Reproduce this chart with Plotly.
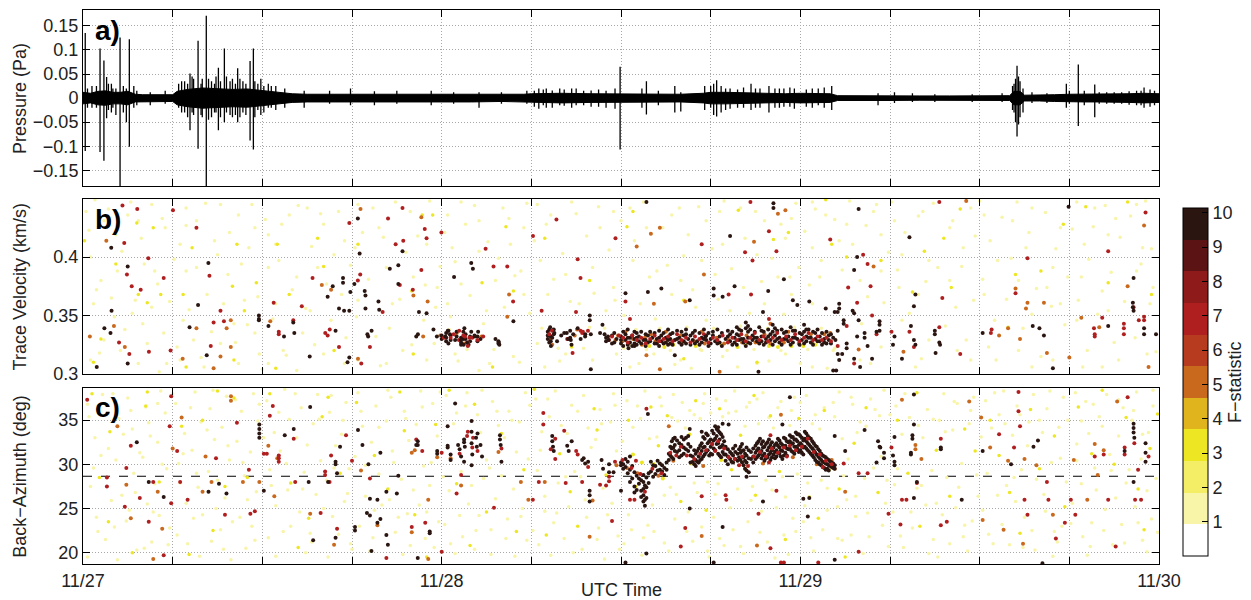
import plotly.graph_objects as go
from plotly.subplots import make_subplots

# ---------------- axes / ticks ----------------
time_ticks = [0, 6, 12, 18, 24, 30, 36, 42, 48, 54, 60, 66, 72]
time_tick_labels = ["11/27", "", "", "", "11/28", "", "", "", "11/29", "", "", "", "11/30"]
p_ticks = [-0.15, -0.1, -0.05, 0, 0.05, 0.1, 0.15]
p_tick_labels = ["−0.15", "−0.1", "−0.05", "0", "0.05", "0.1", "0.15"]
v_ticks = [0.3, 0.35, 0.4]
v_tick_labels = ["0.3", "0.35", "0.4"]
baz_ticks = [20, 25, 30, 35]
f_ticks = [1, 2, 3, 4, 5, 6, 7, 8, 9, 10]
ref_baz = 28.65  # dashed reference back-azimuth

# F-statistic colour bands (bottom to top)
band_colors = ["#ffffff", "#f8f4a8", "#f4ee66", "#ede623", "#e0b41d", "#c9691e",
               "#b63b1f", "#b01f1f", "#8e1a1a", "#5b1313", "#2a1511"]
F_MAX = 10.13

# F value of each point class
F_PALE, F_YELLOW, F_ORANGE, F_RED, F_DARK = 1.4, 3.2, 5.0, 7.0, 9.6

# ---------------- panel a: pressure ----------------
env_hours = [0, 0.5, 1, 1.5, 2, 2.5, 3, 3.5, 4, 5, 6, 6.3, 7, 8, 9, 10, 11, 12, 13, 14, 15, 16, 18,
             20, 22, 24, 26, 28, 29.5, 30, 32, 34, 35.5, 36, 37, 38, 40, 41.5, 42, 43, 44, 45, 46,
             47, 48, 49, 50, 50.5, 52, 54, 56, 58, 60, 62, 62.3, 62.7, 63, 64, 65, 66, 67, 68, 69,
             70, 71, 72]
env_amp = [0.012, 0.01, 0.014, 0.015, 0.012, 0.012, 0.014, 0.008, 0.007, 0.007, 0.007, 0.014, 0.018,
           0.021, 0.019, 0.018, 0.019, 0.016, 0.012, 0.009, 0.008, 0.008, 0.008, 0.008, 0.007, 0.008,
           0.008, 0.007, 0.008, 0.009, 0.01, 0.009, 0.009, 0.008, 0.008, 0.008, 0.008, 0.01, 0.012,
           0.012, 0.011, 0.011, 0.01, 0.009, 0.01, 0.01, 0.009, 0.005, 0.0045, 0.005, 0.0045, 0.0045,
           0.0045, 0.005, 0.014, 0.014, 0.006, 0.006, 0.007, 0.008, 0.008, 0.008, 0.008, 0.009, 0.01, 0.009]

# (hour, max, min) of individual pulses
spikes = [
    (0.15, 0.135, -0.11), (1.14, 0.103, -0.112), (1.4, 0.078, -0.13), (1.58, 0.044, -0.042),
    (2.48, 0.126, -0.183), (2.9, 0.02, -0.05), (3.1, 0.122, -0.101), (7.16, 0.051, -0.067),
    (7.7, 0.119, -0.105), (7.98, 0.04, -0.04), (8.25, 0.171, -0.183), (9.06, 0.063, -0.067),
    (9.46, 0.103, -0.05), (9.84, 0.035, -0.035), (10.35, 0.062, -0.05), (11.18, 0.077, -0.088),
    (11.4, 0.103, -0.107), (11.5, 0.035, -0.04), (35.94, 0.065, -0.107), (62.5, 0.067, -0.08),
    (65.8, 0.03, -0.02), (66.6, 0.07, -0.058), (67.7, 0.028, -0.04),
    (0.6, 0.025, -0.02), (1.9, 0.03, -0.03), (2.2, 0.02, -0.035), (3.4, 0.025, -0.02),
    (4.5, 0.012, -0.015), (5.5, 0.015, -0.012), (6.4, 0.03, -0.02), (6.8, 0.035, -0.03),
    (7.4, 0.04, -0.035), (8.6, 0.035, -0.04), (8.9, 0.045, -0.03), (10.0, 0.04, -0.04),
    (10.7, 0.035, -0.03), (11.9, 0.04, -0.035), (12.4, 0.03, -0.02), (12.9, 0.025, -0.025),
    (13.5, 0.02, -0.02), (14.8, 0.015, -0.02), (16.5, 0.015, -0.012), (17.9, 0.02, -0.015),
    (19.5, 0.014, -0.015), (21.0, 0.015, -0.012), (23.3, 0.015, -0.015), (24.8, 0.012, -0.012),
    (26.5, 0.012, -0.02), (28.0, 0.012, -0.012), (29.7, 0.015, -0.012), (30.5, 0.02, -0.022),
    (31.0, 0.02, -0.02), (31.9, 0.02, -0.015), (32.7, 0.02, -0.02), (33.5, 0.015, -0.015),
    (34.5, 0.018, -0.018), (35.6, 0.02, -0.022), (37.4, 0.02, -0.02), (37.7, 0.035, -0.034),
    (38.5, 0.015, -0.015), (39.6, 0.025, -0.03), (40.0, 0.012, -0.028), (41.6, 0.025, -0.025),
    (42.2, 0.03, -0.035), (42.4, 0.037, -0.038), (42.7, 0.025, -0.03), (43.3, 0.02, -0.022),
    (43.8, 0.018, -0.02), (44.7, 0.03, -0.025), (45.3, 0.02, -0.02), (45.9, 0.025, -0.03),
    (46.3, 0.02, -0.02), (46.9, 0.02, -0.018), (47.6, 0.02, -0.022), (48.4, 0.018, -0.018),
    (49.2, 0.02, -0.015), (50.1, 0.025, -0.025), (53.2, 0.01, -0.015), (54.3, 0.012, -0.01),
    (55.5, 0.01, -0.008), (57.0, 0.008, -0.008), (59.5, 0.008, -0.008), (61.5, 0.01, -0.008),
    (62.3, 0.03, -0.03), (62.7, 0.035, -0.04), (63.5, 0.012, -0.01), (64.5, 0.01, -0.01),
    (66.0, 0.015, -0.012), (67.0, 0.015, -0.015), (68.5, 0.012, -0.012), (69.5, 0.012, -0.012),
    (70.5, 0.015, -0.015), (71.0, 0.022, -0.02), (71.4, 0.018, -0.018),
    (6.6, 0.035, -0.03), (7.0, 0.03, -0.04), (7.3, 0.045, -0.03), (7.9, 0.03, -0.035),
    (8.4, 0.04, -0.045), (8.8, 0.03, -0.03), (9.2, 0.035, -0.04), (9.6, 0.045, -0.03),
    (10.2, 0.03, -0.035), (10.5, 0.04, -0.04), (10.9, 0.03, -0.035), (11.7, 0.03, -0.025),
    (12.1, 0.025, -0.03), (12.6, 0.025, -0.02), (30.2, 0.015, -0.018), (30.8, 0.018, -0.015),
    (31.4, 0.016, -0.02), (32.2, 0.018, -0.016), (33.0, 0.02, -0.015), (34.0, 0.016, -0.018),
    (35.0, 0.015, -0.02), (42.0, 0.025, -0.02), (43.0, 0.02, -0.025), (44.2, 0.022, -0.02),
    (45.0, 0.02, -0.02), (46.6, 0.02, -0.02), (47.3, 0.022, -0.018), (48.8, 0.02, -0.02),
    (49.6, 0.022, -0.02), (0.3, 0.02, -0.02), (0.9, 0.025, -0.02), (1.7, 0.03, -0.025),
    (2.0, 0.02, -0.02), (2.7, 0.025, -0.03), (3.6, 0.015, -0.015), (68.0, 0.012, -0.012),
    (69.0, 0.012, -0.012), (70.0, 0.014, -0.014), (70.8, 0.015, -0.015), (71.7, 0.015, -0.015),
    (62.2, 0.025, -0.025), (62.4, 0.04, -0.05), (62.6, 0.045, -0.055), (62.9, 0.02, -0.03),
]

# ---------------- panel b: trace velocity (hour, km/s) ----------------
vel_pale = [
    (0.2,0.439),(0.8,0.449),(1.4,0.431),(2.2,0.419),(3.0,0.436),(3.7,0.431),(4.6,0.445),(5.5,0.425),(0.5,0.400),(1.2,0.380),(2.3,0.388),(4.1,0.394),(5.0,0.377),(3.5,0.363),(0.7,0.360),(4.6,0.357),(1.4,0.329),(2.5,0.320),(3.7,0.309),(5.4,0.335),(0.5,0.312),(5.6,0.309),(4.0,0.343),(2.1,0.349),
    (6.9,0.442),(7.6,0.431),(9.2,0.445),(10.4,0.436),(11.5,0.425),(6.5,0.411),(8.8,0.414),(11.1,0.408),(6.9,0.388),(9.7,0.385),(8.3,0.368),(10.8,0.363),(6.7,0.346),(10.1,0.343),(7.4,0.329),(9.2,0.326),(11.5,0.335),(6.5,0.312),(8.1,0.306),(10.4,0.309),(11.8,0.317),
    (12.4,0.419),(12.9,0.411),(13.8,0.436),(15.0,0.442),(16.1,0.428),(17.5,0.414),(12.4,0.391),(14.3,0.383),(15.7,0.391),(17.3,0.368),(12.9,0.360),(15.2,0.354),(16.6,0.346),(13.4,0.320),(14.7,0.335),(16.1,0.317),(17.5,0.309),(12.4,0.309),(14.3,0.303),
    (18.4,0.445),(19.8,0.425),(21.9,0.439),(23.0,0.411),(18.2,0.408),(20.3,0.391),(22.1,0.383),(23.7,0.374),(18.4,0.363),(20.7,0.360),(22.8,0.346),(19.6,0.332),(21.4,0.320),(23.0,0.312),(18.4,0.312),(20.3,0.309),(23.5,0.326),
    (24.4,0.436),(25.3,0.447),(26.5,0.431),(28.1,0.442),(29.5,0.425),(24.7,0.408),(26.5,0.405),(28.6,0.411),(25.3,0.377),(27.6,0.380),(29.3,0.388),(24.4,0.360),(27.0,0.354),(29.5,0.368),(24.9,0.317),(27.2,0.309),(28.8,0.315),(26.5,0.303),
    (30.4,0.445),(31.3,0.436),(32.7,0.447),(34.6,0.425),(35.5,0.439),(30.6,0.397),(32.3,0.385),(34.1,0.391),(35.5,0.374),(31.1,0.368),(33.2,0.360),(35.0,0.354),(30.4,0.326),(32.3,0.317),(34.1,0.312),(35.7,0.317),(30.9,0.306),
    (36.6,0.442),(37.7,0.425),(39.4,0.436),(40.5,0.419),(41.7,0.431),(36.8,0.397),(38.4,0.388),(40.0,0.380),(41.4,0.397),(37.3,0.360),(39.4,0.368),(41.0,0.357),(38.2,0.317),(40.0,0.312),(41.4,0.320),(36.6,0.306),(40.7,0.305),
    (42.6,0.439),(44.0,0.442),(45.6,0.431),(47.4,0.433),(42.8,0.411),(45.1,0.402),(47.0,0.416),(42.3,0.385),(44.2,0.374),(46.5,0.383),(47.9,0.391),(43.3,0.354),(45.6,0.360),(47.4,0.368),(42.8,0.315),(45.1,0.309),(47.0,0.317),
    (48.8,0.447),(49.7,0.436),(51.1,0.428),(52.9,0.439),(48.8,0.408),(50.6,0.414),(53.4,0.419),(49.3,0.383),(52.0,0.380),(53.4,0.388),(48.8,0.360),(52.5,0.366),(50.2,0.320),(53.4,0.323),(48.8,0.306),(52.0,0.312),
    (54.3,0.431),(56.2,0.439),(58.0,0.425),(59.4,0.442),(54.8,0.402),(56.6,0.397),(58.9,0.408),(54.6,0.374),(55.9,0.368),(58.0,0.380),(59.6,0.363),(54.8,0.346),(56.6,0.329),(58.5,0.320),(59.4,0.312),(55.7,0.306),
    (60.3,0.436),(62.2,0.431),(63.5,0.442),(65.4,0.425),(61.2,0.397),(63.1,0.408),(64.9,0.391),(60.3,0.368),(62.6,0.380),(64.5,0.374),(61.0,0.346),(63.5,0.351),(65.4,0.360),(60.6,0.323),(62.6,0.320),(64.9,0.312),(63.5,0.306),
    (66.5,0.447),(67.7,0.442),(69.1,0.433),(70.5,0.445),(67.0,0.411),(68.6,0.419),(70.9,0.408),(66.8,0.383),(68.2,0.371),(70.5,0.388),(71.6,0.374),(66.5,0.346),(68.6,0.354),(71.4,0.360),(67.2,0.320),(69.3,0.312),(71.2,0.317),(68.2,0.306),
]
vel_pale_2 = [
    (0.4,0.423),(0.9,0.372),(1.1,0.318),(1.7,0.441),(1.9,0.365),(2.6,0.405),(2.8,0.338),(3.2,0.447),(3.3,0.352),(3.9,0.416),(4.3,0.326),(4.8,0.388),(5.1,0.302),(5.3,0.433),(5.8,0.362),(6.1,0.398),(6.3,0.323),(6.9,0.427),(7.1,0.355),(7.6,0.391),(7.9,0.314),(8.2,0.446),(8.6,0.336),(9.0,0.402),(9.4,0.360),(9.8,0.421),(10.2,0.327),(10.6,0.394),(11.0,0.342),(11.3,0.445),(11.7,0.366),(12.0,0.304),(12.2,0.432),(12.7,0.347),(13.1,0.397),(13.3,0.428),(13.6,0.316),(14.0,0.372),(14.4,0.444),(14.9,0.356),(15.3,0.409),(15.5,0.325),(15.9,0.437),(16.3,0.377),(16.8,0.402),(17.1,0.439),(17.6,0.331),(17.9,0.393),
    (18.3,0.349),(18.7,0.421),(19.1,0.381),(19.4,0.442),(19.9,0.307),(20.1,0.417),(20.5,0.339),(20.9,0.447),(21.2,0.364),(21.6,0.404),(22.0,0.325),(22.4,0.418),(22.9,0.376),(23.2,0.448),(23.6,0.357),(23.9,0.392),(24.2,0.421),(24.6,0.349),(24.9,0.396),(25.1,0.311),(25.6,0.428),(25.9,0.367),(26.2,0.444),(26.8,0.343),(27.1,0.413),(27.5,0.321),(27.8,0.399),(28.2,0.357),(28.5,0.433),(28.9,0.384),(29.2,0.310),(29.7,0.446),(29.9,0.352),(30.2,0.414),(30.7,0.339),(31.0,0.428),(31.5,0.381),(31.9,0.311),(32.1,0.403),(32.6,0.362),(33.0,0.437),(33.5,0.322),(33.7,0.418),(34.2,0.369),(34.5,0.443),(34.9,0.339),(35.2,0.406),(35.6,0.363),
    (36.0,0.431),(36.2,0.350),(36.9,0.414),(37.2,0.309),(37.5,0.447),(37.9,0.383),(38.3,0.347),(38.8,0.425),(39.1,0.393),(39.6,0.308),(39.9,0.442),(40.2,0.401),(40.8,0.372),(41.2,0.443),(41.7,0.346),(42.1,0.407),(42.5,0.364),(42.9,0.448),(43.4,0.390),(43.8,0.306),(44.3,0.416),(44.6,0.352),(45.0,0.439),(45.4,0.379),(45.9,0.311),(46.1,0.399),(46.7,0.428),(46.9,0.351),(47.3,0.383),(47.7,0.446),(48.0,0.309),(48.3,0.422),(48.6,0.376),(49.0,0.441),(49.4,0.397),(49.8,0.305),(50.3,0.432),(50.8,0.389),(51.3,0.448),(51.5,0.411),(52.1,0.343),(52.4,0.427),(52.7,0.309),(53.1,0.445),(53.6,0.361),(53.9,0.404),
    (54.1,0.447),(54.5,0.389),(55.0,0.421),(55.3,0.352),(55.9,0.435),(56.1,0.313),(56.4,0.379),(56.9,0.446),(57.2,0.391),(57.7,0.341),(58.2,0.431),(58.4,0.357),(58.8,0.392),(59.1,0.329),(59.7,0.418),(60.0,0.448),(60.2,0.381),(60.7,0.414),(61.1,0.312),(61.5,0.434),(61.8,0.364),(62.1,0.399),(62.5,0.447),(62.9,0.339),(63.3,0.421),(63.8,0.373),(64.1,0.315),(64.4,0.438),(64.8,0.358),(65.1,0.407),(65.7,0.342),(65.9,0.383),(66.2,0.424),(66.6,0.363),(66.9,0.306),(67.3,0.398),(67.6,0.426),(67.9,0.351),(68.4,0.444),(68.8,0.387),(69.0,0.327),(69.4,0.417),(69.7,0.362),(70.1,0.435),(70.4,0.331),(70.8,0.394),(71.1,0.448),(71.5,0.407),(71.8,0.319),
    (36.2,0.322),(37.0,0.338),(37.7,0.321),(38.6,0.339),(39.3,0.320),(40.4,0.340),(41.3,0.321),(42.2,0.339),(43.1,0.320),(44.0,0.341),(44.9,0.321),(45.8,0.339),(46.7,0.320),(47.6,0.340),(48.5,0.321),(49.4,0.339),(50.3,0.322),(24.5,0.338),(25.7,0.321),(31.8,0.322),(33.9,0.340),
]
vel_yellow = [
    (3.6,0.429),(0.1,0.414),(4.7,0.425),(4.3,0.361),(1.2,0.330),(0.7,0.310),(5.2,0.368),(3.7,0.368),(2.2,0.394),(7.3,0.408),(10.3,0.411),(10.0,0.375),(6.7,0.368),(11.6,0.378),(10.8,0.354),(10.1,0.312),(6.9,0.306),(13.0,0.411),(15.7,0.416),(16.1,0.392),(13.8,0.368),(16.8,0.320),(12.9,0.305),(18.4,0.411),(23.4,0.436),(22.7,0.436),(22.0,0.371),(22.1,0.317),(28.3,0.426),(26.7,0.378),(28.8,0.371),(27.4,0.306),(30.9,0.416),(33.9,0.380),(32.7,0.323),(36.8,0.439),(40.2,0.363),(36.4,0.426),(40.2,0.313),(43.85,0.440),(47.2,0.421),(46.2,0.415),(45.1,0.310),(50.1,0.411),(53.4,0.397),(49.7,0.449),(51.1,0.400),(57.6,0.416),(58.1,0.374),(55.5,0.370),(56.3,0.405),(58.7,0.441),(62.4,0.385),(64.1,0.388),(65.6,0.428),(61.9,0.340),(69.9,0.447),(67.1,0.443),(71.5,0.368),(68.6,0.378),
]
vel_orange = [
    (1.56,0.414),(2.07,0.341),(0.46,0.332),(2.80,0.323),(7.59,0.339),(9.61,0.339),(9.89,0.346),(9.20,0.315),(9.89,0.323),(6.67,0.313),(8.74,0.305),(12.53,0.345),(16.60,0.372),(15.98,0.376),(18.57,0.441),(18.40,0.313),(22.64,0.434),(22.11,0.367),(23.06,0.362),(22.76,0.332),(23.91,0.333),(25.01,0.335),(26.67,0.332),(28.51,0.368),(28.39,0.349),(31.26,0.330),(33.06,0.338),(35.63,0.329),(38.6,0.425),(38.0,0.420),(37.05,0.409),(41.55,0.385),(38.2,0.360),(40.3,0.362),(46.5,0.437),(47.0,0.440),(44.9,0.413),(46.0,0.343),(52.9,0.392),(51.9,0.321),(37.7,0.316),(38.6,0.304),(42.6,0.302),(54.9,0.319),(59.1,0.448),(62.4,0.373),(63.2,0.361),(64.3,0.361),(63.1,0.356),(61.3,0.333),(61.9,0.339),(62.7,0.330),(64.5,0.318),(66.0,0.314),(66.8,0.348),(68.0,0.340),(71.0,0.427),(69.9,0.375),(71.3,0.306),
]
vel_red = [
    (2.64,0.444),(3.63,0.441),(2.76,0.412),(2.94,0.385),(4.37,0.399),(3.26,0.375),(3.86,0.372),(5.40,0.382),(2.41,0.327),(4.41,0.319),(3.10,0.317),(5.86,0.320),(6.02,0.440),(7.59,0.425),(8.46,0.384),(9.20,0.354),(8.74,0.344),(9.43,0.345),(8.55,0.324),(13.10,0.336),(13.10,0.334),(14.07,0.346),(12.76,0.361),(14.64,0.358),(16.21,0.335),(16.37,0.333),(16.51,0.338),(17.13,0.323),(15.36,0.382),(18.55,0.385),(18.39,0.380),(17.82,0.429),(18.62,0.309),(20.05,0.353),(20.41,0.433),(21.38,0.442),(21.43,0.414),(20.92,0.411),(21.20,0.376),(22.87,0.424),(22.99,0.416),(22.64,0.389),(22.07,0.372),(23.98,0.421),(19.20,0.323),(24.60,0.331),(25.17,0.337),(25.56,0.332),(25.86,0.331),(26.39,0.329),(26.78,0.332),(25.75,0.324),(26.94,0.407),(27.47,0.392),(28.39,0.392),(28.78,0.362),(31.38,0.337),(33.29,0.337),(33.45,0.336),(33.79,0.337),(35.40,0.332),(35.86,0.333),(30.69,0.354),(32.99,0.353),(30.11,0.418),(31.68,0.432),(35.63,0.416),(33.10,0.398),(33.29,0.382),(32.76,0.318),
    (41.4,0.411),(36.3,0.362),(36.6,0.347),(44.66,0.447),(45.9,0.422),(46.4,0.405),(44.3,0.404),(44.8,0.397),(43.2,0.368),(44.7,0.368),(45.9,0.347),(50.0,0.415),(52.2,0.402),(52.5,0.394),(52.7,0.375),(51.2,0.374),(51.8,0.361),(51.1,0.341),(52.8,0.350),(53.1,0.334),(50.5,0.324),(51.6,0.309),(54.1,0.336),(55.3,0.336),(55.6,0.323),(57.3,0.340),(57.5,0.365),(58.7,0.317),(57.3,0.447),(63.2,0.399),(62.4,0.369),(60.8,0.338),(60.75,0.335),(68.6,0.405),(71.1,0.438),(70.65,0.346),(71.0,0.349),(71.0,0.346),(69.65,0.343),(69.65,0.339),(69.65,0.334),(67.65,0.339),(67.7,0.334),(67.7,0.332),(68.2,0.348),(70.3,0.357),
]
vel_dark = [
    (1.89,0.408),(2.99,0.392),(1.91,0.354),(1.43,0.339),(1.84,0.335),(2.99,0.309),(0.92,0.306),(8.39,0.395),(7.70,0.359),(7.13,0.340),(8.28,0.316),(11.77,0.350),(11.77,0.347),(11.77,0.346),(12.41,0.341),(13.45,0.332),(14.07,0.344),(14.14,0.335),(15.17,0.315),(16.90,0.337),(16.71,0.375),(16.37,0.366),(17.13,0.356),(17.47,0.354),(17.82,0.354),(17.40,0.382),(17.40,0.378),(17.89,0.370),(18.16,0.377),(17.82,0.314),(17.70,0.310),(18.39,0.433),(18.51,0.403),(18.85,0.371),(18.90,0.367),(18.90,0.356),(19.77,0.362),(19.82,0.355),(20.53,0.390),(21.10,0.393),(21.10,0.377),(21.38,0.405),(22.48,0.353),(22.99,0.352),(19.31,0.337),(19.08,0.332),(19.03,0.334),(22.30,0.332),(22.41,0.334),(23.45,0.338),(23.68,0.332),(24.25,0.332),(24.41,0.337),(24.55,0.334),(25.29,0.329),(25.52,0.339),(25.70,0.327),(25.98,0.336),(26.21,0.332),(26.44,0.336),(25.47,0.325),(27.82,0.327),(27.86,0.325),(24.83,0.383),(26.09,0.390),(25.98,0.395),(28.80,0.345),(31.26,0.340),(31.31,0.324),(31.54,0.335),(31.72,0.328),(32.46,0.330),(32.64,0.329),(32.69,0.325),(33.61,0.334),(33.98,0.334),(33.91,0.350),(33.91,0.346),(34.76,0.342),(35.13,0.332),(35.17,0.329),(33.98,0.304),(32.37,0.335),
    (37.7,0.447),(36.3,0.369),(37.8,0.370),(38.7,0.373),(40.6,0.363),(43.3,0.418),(46.2,0.446),(46.2,0.442),(42.2,0.373),(42.2,0.367),(43.6,0.375),(42.8,0.366),(45.85,0.371),(46.9,0.381),(47.5,0.363),(47.8,0.359),(45.5,0.353),(48.6,0.362),(49.7,0.356),(51.9,0.441),(51.8,0.400),(51.6,0.389),(51.5,0.354),(51.6,0.352),(50.6,0.360),(50.6,0.356),(50.5,0.353),(50.3,0.353),(50.9,0.346),(50.9,0.343),(50.5,0.337),(51.9,0.346),(53.3,0.345),(53.3,0.342),(53.3,0.337),(53.1,0.336),(52.3,0.335),(52.3,0.331),(51.8,0.332),(51.1,0.326),(51.1,0.322),(50.5,0.317),(50.8,0.317),(50.6,0.312),(50.4,0.303),(50.2,0.303),(51.6,0.313),(52.0,0.306),(52.8,0.313),(52.5,0.324),(45.2,0.302),(41.66,0.332),(39.6,0.316),(36.5,0.322),(36.9,0.324),(55.3,0.417),(55.7,0.368),(55.6,0.358),(54.3,0.332),(54.2,0.325),(55.4,0.341),(55.6,0.329),(55.7,0.325),(57.0,0.337),(57.0,0.334),(57.3,0.327),(57.35,0.325),(57.05,0.318),(54.8,0.313),(60.2,0.335),(63.55,0.341),(64.0,0.339),(64.3,0.333),(65.95,0.443),(70.3,0.382),(70.25,0.361),(70.25,0.357),(70.3,0.354),(71.0,0.339),(71.0,0.334),(68.6,0.341),(71.8,0.334),(64.9,0.305),
]
# dense band of detections (hour, velocities)
vel_band_dark = [
    (24.0,(0.333,0.330)),(24.3,(0.335,0.331,0.328)),(24.6,(0.333,0.329)),(25.0,(0.336,0.332)),(25.3,(0.331,0.327,0.325)),(25.6,(0.334,0.330)),(25.9,(0.332,0.328)),(26.2,(0.333,)),(26.6,(0.330,)),(27.8,(0.328,0.326)),
    (31.1,(0.336,0.333,0.330)),(31.3,(0.332,0.328)),(31.5,(0.338,0.334)),(32.2,(0.335,)),(32.6,(0.337,0.331)),(33.1,(0.339,)),(33.6,(0.332,)),(34.6,(0.335,)),(35.0,(0.331,0.328)),(35.4,(0.333,0.326)),(35.7,(0.330,)),
    (36.0,(0.332,0.329,0.326)),(36.3,(0.334,0.329)),(36.6,(0.331,0.327)),(36.9,(0.330,0.326,0.336)),(37.2,(0.332,0.328)),(37.5,(0.329,)),(37.8,(0.333,0.327)),(38.1,(0.331,)),(38.4,(0.330,0.326)),(38.7,(0.333,0.328)),(39.0,(0.331,0.327)),(39.3,(0.334,0.330,0.326)),(39.6,(0.329,)),(39.9,(0.331,0.327)),(40.2,(0.333,0.328)),(40.5,(0.330,)),(40.8,(0.335,0.329)),(41.1,(0.328,)),(41.4,(0.331,0.327)),(41.7,(0.333,0.329)),(42.0,(0.330,0.326)),(42.3,(0.328,)),(42.6,(0.332,0.327)),(43.0,(0.330,)),(43.3,(0.334,0.328)),(43.6,(0.331,0.327)),(43.9,(0.338,0.333,0.329)),(44.2,(0.330,0.327)),(44.5,(0.341,0.336,0.331,0.327)),(44.8,(0.333,0.329)),(45.1,(0.331,0.328)),(45.4,(0.337,0.332,0.328)),(45.7,(0.330,0.327)),(46.0,(0.334,0.329)),(46.3,(0.339,0.333,0.328)),(46.6,(0.331,0.327)),(46.9,(0.335,0.330)),(47.2,(0.332,0.328)),(47.5,(0.337,0.331,0.327)),(47.8,(0.330,)),(48.1,(0.334,0.329)),(48.4,(0.338,0.332,0.328)),(48.7,(0.331,0.327)),(49.0,(0.335,0.330)),(49.3,(0.332,0.328)),(49.6,(0.330,0.327)),(49.9,(0.333,0.329)),(50.2,(0.331,)),
]
vel_band_dark_2 = [
    (24.45,(0.337,0.326)),(24.9,(0.329,)),(25.45,(0.330,0.336)),(25.8,(0.325,)),(26.4,(0.332,0.328)),(27.6,(0.330,)),(31.2,(0.338,0.327)),(31.4,(0.331,)),(32.0,(0.333,)),(32.8,(0.334,)),(33.3,(0.330,)),(34.9,(0.334,)),(35.55,(0.335,0.327)),
    (36.15,(0.336,0.324)),(36.45,(0.338,0.331,0.325)),(36.75,(0.333,0.324)),(37.05,(0.335,0.331,0.325)),(37.35,(0.336,0.326)),(37.65,(0.334,0.329,0.324)),(37.95,(0.336,0.328)),(38.25,(0.335,0.326)),(38.55,(0.337,0.331,0.324)),(38.85,(0.335,0.326)),(39.15,(0.338,0.329,0.325)),(39.45,(0.335,0.325)),(39.75,(0.337,0.330)),(40.05,(0.336,0.325)),(40.35,(0.338,0.334,0.326)),(40.65,(0.333,0.325)),(40.95,(0.337,0.326)),(41.25,(0.335,0.325)),(41.55,(0.338,0.330)),(41.85,(0.335,0.324)),(42.15,(0.336,0.333)),(42.45,(0.338,0.326)),(42.75,(0.335,0.324)),(43.15,(0.337,0.332)),(43.45,(0.336,0.325)),(43.75,(0.340,0.334,0.325)),(44.05,(0.337,0.330)),(44.35,(0.344,0.339,0.324)),(44.65,(0.338,0.326)),(44.95,(0.336,0.331)),(45.25,(0.340,0.326)),(45.55,(0.336,0.325)),(45.85,(0.338,0.332)),(46.15,(0.342,0.336,0.325)),(46.45,(0.337,0.330)),(46.75,(0.338,0.325)),(47.05,(0.336,0.330)),(47.35,(0.340,0.325)),(47.65,(0.337,0.331)),(47.95,(0.335,0.325)),(48.25,(0.342,0.336,0.326)),(48.55,(0.338,0.331)),(48.85,(0.336,0.325)),(49.15,(0.338,0.328)),(49.45,(0.335,0.325)),(49.75,(0.336,0.326)),(50.05,(0.334,0.326)),(50.35,(0.329,)),
]
vel_band_red = [
    (24.15,0.331),(24.8,0.334),(25.15,0.329),(25.45,0.333),(25.75,0.327),(26.05,0.331),(31.2,0.334),(32.4,0.330),(33.4,0.335),(35.2,0.329),(36.15,0.331),(36.45,0.327),(36.75,0.333),(37.05,0.329),(37.35,0.331),(37.65,0.326),(37.95,0.330),(38.25,0.333),(38.55,0.328),(38.85,0.330),(39.15,0.332),(39.45,0.328),(39.75,0.334),(40.05,0.329),(40.35,0.331),(40.65,0.327),(40.95,0.332),(41.25,0.330),(41.55,0.334),(41.85,0.327),(42.15,0.331),(42.45,0.329),(42.8,0.333),(43.15,0.327),(43.45,0.331),(43.75,0.329),(44.05,0.334),(44.35,0.328),(44.65,0.331),(44.95,0.335),(45.25,0.329),(45.55,0.332),(45.85,0.328),(46.15,0.331),(46.45,0.335),(46.75,0.329),(47.05,0.332),(47.35,0.329),(47.65,0.334),(47.95,0.328),(48.25,0.331),(48.55,0.335),(48.85,0.329),(49.15,0.332),(49.45,0.329),(49.75,0.331),(50.05,0.328),
]
vel_band_orange = [
    (36.1,0.328),(36.8,0.330),(37.6,0.331),(38.3,0.328),(39.1,0.330),(40.1,0.326),(40.9,0.328),(41.6,0.326),(42.4,0.331),(43.2,0.329),(44.1,0.327),(45.0,0.327),(46.0,0.326),(46.9,0.327),(47.9,0.326),(48.8,0.327),(49.6,0.334),(25.5,0.326),(31.4,0.325),(32.9,0.333),(35.8,0.333),
    (36.3,0.336),(37.4,0.325),(38.0,0.334),(39.0,0.336),(40.0,0.333),(41.4,0.336),(42.9,0.326),(44.4,0.333),(45.6,0.334),(47.2,0.336),(48.7,0.334),(50.0,0.335),
]
vel_band_yellow = [
    (36.5,0.325),(37.9,0.324),(39.5,0.325),(41.0,0.324),(42.7,0.325),(44.3,0.325),(45.9,0.324),(47.4,0.324),(49.0,0.325),(38.9,0.323),(43.8,0.323),(46.5,0.323),(48.2,0.324),
]

# ---------------- panel c: back-azimuth (hour, deg) ----------------
baz_pale = [
    (0.3,36.8),(0.8,33.0),(1.2,31.0),(0.5,27.5),(0.9,24.0),(1.5,21.5),(0.3,19.5),(2.0,38.0),(2.4,35.2),(2.2,30.5),(2.6,26.5),(2.1,22.9),(3.0,37.5),(3.3,34.0),(3.4,29.0),(3.1,24.8),(3.6,20.3),(4.2,36.5),(4.5,33.2),(4.0,30.8),(4.8,27.8),(4.3,25.5),(4.6,21.2),(5.2,38.3),(5.5,35.8),(5.0,32.5),(5.6,29.5),(5.1,24.2),(5.7,20.9),
    (6.2,36.9),(6.8,33.5),(6.4,30.1),(6.9,25.6),(6.3,22.0),(7.5,38.2),(7.9,34.8),(7.3,31.6),(7.7,27.4),(7.4,23.9),(7.8,19.6),(8.5,36.3),(8.8,32.8),(8.4,29.2),(8.9,25.0),(8.6,21.3),(9.6,37.7),(9.3,34.2),(9.8,30.5),(9.5,26.2),(9.2,22.6),(9.9,19.2),(10.6,36.0),(10.3,32.6),(10.8,28.7),(10.5,24.0),(10.9,20.5),(11.4,38.0),(11.7,34.9),(11.2,31.4),(11.6,26.9),(11.3,23.0),
    (12.3,37.2),(12.8,33.6),(12.5,29.4),(12.9,25.3),(12.4,21.7),(13.5,38.5),(13.8,35.1),(13.2,31.5),(13.7,27.1),(13.4,22.4),(14.6,36.4),(14.3,33.0),(14.8,29.1),(14.5,24.6),(14.9,20.0),(15.7,37.9),(15.4,34.6),(15.9,30.4),(15.6,26.6),(15.2,22.2),(16.5,35.9),(16.9,32.1),(16.3,28.2),(16.7,24.1),(16.4,19.5),(17.6,37.0),(17.3,33.4),(17.8,29.5),(17.5,25.8),(17.9,21.0),
    (18.4,38.1),(18.7,34.3),(18.2,30.9),(18.9,26.4),(18.5,23.0),(19.6,36.6),(19.3,32.5),(19.8,28.9),(19.5,24.8),(19.2,20.2),(20.6,37.6),(20.3,34.9),(20.8,30.2),(20.5,26.0),(20.9,22.3),(21.5,36.0),(21.8,32.7),(21.3,28.3),(21.7,24.4),(21.4,19.8),(22.6,38.3),(22.3,34.5),(22.8,29.8),(22.5,25.4),(22.9,21.6),(23.4,36.9),(23.7,33.2),(23.2,27.6),(23.8,23.5),(23.5,20.6),
    (24.3,37.8),(24.8,34.6),(24.5,27.0),(24.2,23.2),(24.9,19.9),(25.6,36.6),(25.3,29.2),(25.8,25.5),(25.4,21.8),(26.7,38.4),(26.4,35.6),(26.8,28.4),(26.5,24.2),(26.2,20.4),(27.4,37.1),(27.8,34.4),(27.2,29.6),(27.6,26.1),(27.3,22.6),(28.5,36.0),(28.2,33.0),(28.8,27.2),(28.4,23.8),(28.9,19.6),(29.6,38.1),(29.2,34.8),(29.8,30.6),(29.4,25.0),(29.7,21.4),
    (30.3,37.4),(30.7,33.7),(30.4,29.3),(30.9,24.7),(30.5,20.9),(31.6,38.3),(31.2,35.4),(31.8,27.9),(31.5,23.4),(31.3,19.7),(32.7,36.7),(32.4,33.5),(32.9,29.2),(32.5,25.2),(32.2,21.6),(33.5,37.8),(33.8,34.1),(33.3,28.6),(33.7,24.0),(33.4,20.4),(34.6,36.2),(34.3,32.8),(34.8,27.3),(34.5,22.8),(34.9,19.3),(35.5,38.0),(35.3,34.8),(35.7,31.5),(35.4,25.6),(35.8,21.9),
    (36.4,37.2),(36.8,34.2),(36.5,24.3),(36.2,21.0),(37.6,38.3),(37.3,35.2),(37.8,23.1),(37.4,19.7),(38.7,36.6),(38.4,33.1),(38.9,26.5),(38.2,22.4),(39.5,37.9),(39.8,34.9),(39.3,27.4),(39.6,23.8),(39.2,20.2),(40.6,36.1),(40.3,34.1),(40.9,27.9),(40.5,24.6),(40.8,21.3),(41.6,38.0),(41.3,35.2),(41.8,28.0),(41.4,22.9),(41.9,19.5),
    (42.4,37.4),(42.8,35.4),(42.5,27.8),(42.2,24.0),(42.9,20.8),(43.6,38.3),(43.2,35.8),(43.8,27.2),(43.5,22.6),(44.6,37.0),(44.3,34.3),(44.8,27.5),(44.5,23.5),(44.2,19.9),(45.5,38.1),(45.2,34.6),(45.7,28.2),(45.4,24.7),(45.8,21.2),(46.5,36.4),(46.2,34.1),(46.8,28.6),(46.4,25.1),(46.9,22.0),(47.6,37.6),(47.3,34.4),(47.8,28.9),(47.5,23.9),(47.2,19.8),
    (48.4,37.8),(48.8,34.6),(48.5,27.9),(48.2,23.5),(48.9,20.2),(49.6,36.4),(49.3,34.0),(49.8,27.3),(49.5,22.6),(50.6,38.2),(50.3,35.4),(50.9,28.7),(50.5,25.2),(50.8,21.4),(51.5,36.8),(51.8,33.6),(51.2,30.6),(51.7,26.4),(51.4,22.0),(52.7,37.4),(52.4,34.3),(52.9,29.6),(52.5,24.5),(52.2,19.9),(53.6,38.4),(53.3,35.5),(53.8,28.2),(53.5,23.1),(53.9,20.7),
    (54.4,36.6),(54.8,33.4),(54.5,29.5),(54.2,24.6),(54.9,20.6),(55.6,37.9),(55.3,35.3),(55.8,27.3),(55.5,22.8),(56.5,36.2),(56.2,33.0),(56.8,29.3),(56.4,25.4),(56.9,21.5),(57.6,38.0),(57.3,35.0),(57.8,28.5),(57.5,24.3),(57.2,19.5),(58.5,36.9),(58.2,33.9),(58.8,30.1),(58.4,25.1),(58.9,21.8),(59.6,37.6),(59.3,34.6),(59.8,28.8),(59.5,23.6),(59.2,20.2),
    (60.4,37.2),(60.8,34.1),(60.5,29.0),(60.2,24.8),(60.9,21.0),(61.6,38.3),(61.3,35.6),(61.8,27.6),(61.5,23.2),(62.5,36.6),(62.2,33.3),(62.8,29.4),(62.4,25.8),(62.9,20.6),(63.6,37.9),(63.3,34.8),(63.8,28.3),(63.5,22.5),(64.5,36.3),(64.2,33.6),(64.8,30.2),(64.4,24.7),(64.9,19.6),(65.6,37.6),(65.3,34.2),(65.8,28.0),(65.5,23.0),(65.2,21.2),
    (66.4,38.1),(66.8,34.9),(66.5,30.4),(66.2,25.6),(66.9,21.8),(67.6,36.8),(67.3,33.5),(67.8,27.1),(67.5,23.4),(67.2,19.7),(68.5,37.9),(68.2,34.3),(68.8,29.3),(68.4,24.9),(68.9,20.9),(69.6,36.4),(69.3,33.2),(69.8,27.9),(69.5,23.2),(70.5,38.2),(70.2,35.0),(70.8,30.6),(70.4,25.2),(70.9,21.4),(71.6,36.6),(71.3,33.6),(71.8,28.4),(71.5,23.8),(71.2,20.1),
]
baz_pale_2 = [
    (0.4,35.4),(0.7,29.6),(1.0,22.4),(1.3,37.9),(1.7,31.8),(1.9,25.9),(2.3,19.2),(2.7,33.4),(2.9,23.6),(3.2,36.1),(3.5,26.8),(3.8,31.3),(4.1,20.5),(4.4,34.7),(4.7,24.6),(5.0,36.9),(5.3,30.0),(5.8,22.8),(6.0,38.0),(6.5,27.9),(6.7,31.2),(7.0,21.0),(7.2,36.4),(7.6,29.0),(8.0,24.3),(8.3,33.9),(8.7,38.4),(9.0,28.2),(9.4,20.4),(9.7,32.1),(10.0,23.5),(10.2,37.3),(10.7,30.2),(11.0,26.0),(11.5,21.4),(11.8,36.8),(12.1,33.0),(12.6,27.6),(12.9,19.6),(13.1,35.9),(13.6,30.1),(13.9,23.0),(14.2,38.0),(14.7,27.2),(15.0,32.2),(15.3,21.2),(15.8,35.1),(16.1,25.0),(16.6,37.8),(16.8,29.6),(17.1,22.1),(17.4,35.0),(17.7,26.7),(18.0,20.4),
    (18.6,36.0),(18.9,29.9),(19.4,21.7),(19.8,34.2),(20.0,25.4),(20.4,38.4),(20.7,31.5),(21.1,24.0),(21.6,35.2),(21.9,20.8),(22.1,27.1),(22.7,36.5),(23.0,24.6),(23.3,30.2),(23.9,38.2),(24.1,28.6),(24.6,21.0),(25.0,35.8),(25.2,24.2),(25.7,38.1),(26.0,27.6),(26.3,22.5),(26.6,33.6),(27.0,30.5),(27.3,19.8),(27.7,36.0),(28.0,28.7),(28.3,21.6),(28.7,35.0),(29.0,31.4),(29.3,24.1),(29.9,36.7),(30.1,22.5),(30.6,31.6),(30.9,26.4),(31.1,37.4),(31.7,24.5),(32.0,34.4),(32.3,28.6),(32.8,20.0),(33.1,36.0),(33.6,26.0),(34.0,31.9),(34.4,21.5),(34.7,34.6),(35.1,24.3),(35.6,36.7),(35.9,20.4),
    (36.1,32.6),(36.7,22.6),(37.1,36.6),(37.5,21.7),(37.9,32.9),(38.1,25.4),(38.6,37.6),(38.9,21.1),(39.4,35.3),(39.7,26.6),(40.1,37.0),(40.4,22.4),(40.9,35.6),(41.1,26.8),(41.5,36.9),(41.8,20.2),(42.0,35.8),(42.3,26.6),(42.6,21.6),(43.0,37.2),(43.3,25.1),(43.7,36.0),(44.0,20.7),(44.4,36.5),(44.7,25.9),(45.1,37.4),(45.3,22.3),(45.9,35.3),(46.1,27.1),(46.3,19.4),(46.7,37.1),(47.0,26.3),(47.4,36.1),(47.7,22.4),(48.0,37.0),(48.3,25.3),(48.7,21.7),(49.0,35.6),(49.4,28.2),(49.8,24.8),(50.2,37.0),(50.5,21.6),(50.8,32.9),(51.1,26.0),(51.4,37.6),(51.7,24.1),(52.0,34.8),(52.3,28.4),(52.6,21.8),(53.0,36.2),(53.4,30.9),(53.7,25.6),
    (54.0,35.6),(54.3,27.7),(54.7,21.9),(55.0,38.0),(55.4,24.6),(55.9,34.4),(56.1,27.6),(56.6,19.9),(56.9,35.1),(57.1,25.6),(57.7,33.7),(58.0,21.0),(58.3,37.1),(58.6,27.4),(59.0,23.1),(59.4,36.1),(59.9,26.4),(60.1,33.1),(60.6,22.1),(61.0,38.1),(61.2,26.5),(61.7,34.6),(62.0,20.9),(62.3,28.5),(62.7,35.6),(63.0,24.0),(63.2,32.1),(63.7,20.3),(64.0,35.0),(64.3,26.6),(64.7,38.3),(65.0,22.4),(65.4,30.7),(65.9,35.0),(66.1,23.3),(66.5,32.3),(66.8,27.8),(67.1,37.1),(67.4,20.7),(67.7,29.6),(68.0,35.4),(68.3,22.5),(68.7,31.1),(69.1,26.2),(69.3,37.3),(69.7,21.1),(70.0,29.4),(70.3,36.1),(70.6,23.4),(70.9,33.4),(71.2,27.0),(71.6,38.4),(71.9,22.3),
]
baz_yellow = [
    (0.6,38.0),(1.8,33.7),(4.2,36.6),(4.3,38.2),(1.1,28.5),(5.1,28.0),(3.3,20.0),(1.7,23.5),(6.6,34.3),(8.0,35.0),(8.7,22.5),(9.5,27.5),(10.1,37.5),(11.0,28.5),(7.1,19.8),(9.0,38.3),(12.5,38.0),(13.9,27.9),(15.1,23.9),(16.0,35.4),(17.2,29.0),(14.4,20.6),(16.4,37.6),(18.3,37.0),(19.5,31.0),(20.4,27.2),(21.5,33.8),(22.2,24.3),(23.6,34.5),(23.0,19.5),(21.2,38.2),(24.5,38.4),(25.0,27.8),(26.2,36.8),(27.0,24.6),(28.0,33.5),(29.0,22.4),(29.5,29.4),(25.9,20.8),(30.2,38.5),(31.9,31.2),(32.6,26.9),(33.1,23.0),(34.2,36.3),(35.0,28.8),(34.4,33.9),(31.0,22.0),(36.5,35.0),(37.0,27.5),(38.0,36.5),(39.1,35.5),(40.0,25.8),(41.0,37.2),(41.7,24.8),(38.5,32.1),(40.6,33.4),(42.6,36.3),(43.4,29.4),(44.0,33.3),(45.0,26.5),(46.0,35.5),(46.6,29.2),(47.0,21.5),(47.9,35.2),(44.9,37.8),(48.6,26.3),(49.6,36.1),(50.6,27.2),(51.6,32.4),(52.4,36.4),(53.2,26.8),(51.0,19.5),(49.2,23.9),(54.5,35.0),(55.2,29.0),(56.0,23.0),(57.1,31.6),(58.0,26.4),(59.0,34.0),(59.7,31.5),(55.8,38.1),(60.7,35.0),(61.3,31.0),(62.0,26.8),(63.4,36.2),(64.0,29.5),(65.0,33.2),(65.7,25.2),(62.7,22.2),(66.6,36.5),(67.5,31.2),(68.2,38.4),(69.0,30.0),(69.8,35.3),(70.6,27.2),(71.4,31.8),(71.9,35.7),(71.0,22.6),
]
baz_orange = [
    (2.3,34.3),(6.6,35.3),(6.0,31.8),(2.9,27.7),(5.0,26.9),(3.2,23.9),(5.3,22.7),(4.7,19.3),(9.9,37.7),(9.9,37.2),(12.4,32.1),(13.0,30.7),(8.2,30.9),(8.0,26.9),(8.6,28.0),(10.7,28.0),(11.8,28.0),(12.8,26.4),(15.2,24.4),(18.6,29.3),(19.7,23.1),(16.8,20.9),(22.0,22.3),(23.1,19.3),(23.1,26.0),(22.0,31.3),(23.7,30.8),(24.6,30.7),(27.8,31.4),(29.3,28.0),(29.8,26.0),(30.9,28.0),(34.1,25.9),(35.7,29.9),(33.9,21.8),(22.2,31.6),(25.3,27.6),
    (39.2,34.3),(46.7,35.6),(41.4,21.9),(45.1,20.8),(51.0,26.9),(54.8,37.3),(55.7,32.2),(55.7,31.7),(56.1,30.6),(59.3,37.1),(60.1,35.3),(60.7,31.9),(61.9,30.4),(63.0,30.6),(62.9,21.0),(64.9,24.3),(66.3,30.5),(67.7,32.3),(68.3,31.6),(69.2,37.1),(67.9,28.8),(67.2,26.0),(60.2,23.7),(61.6,22.6),(63.8,29.9),(50.1,30.5),
]
baz_red = [
    (0.28,37.3),(5.9,37.7),(3.2,32.1),(5.8,34.3),(6.3,31.5),(2.9,29.6),(1.6,28.5),(1.6,27.5),(4.7,28.0),(3.8,26.2),(5.9,25.6),(7.0,26.0),(6.5,28.0),(2.8,25.2),(4.4,23.5),(5.4,19.7),(12.7,36.6),(10.3,34.7),(14.1,32.9),(12.1,31.2),(12.3,31.2),(13.1,31.0),(13.1,30.7),(13.1,30.3),(11.1,29.4),(8.9,30.7),(9.5,24.3),(11.2,24.4),(11.5,24.7),(14.2,28.0),(15.9,24.5),(16.6,31.0),(16.2,29.2),(16.2,28.8),(16.5,28.0),(17.6,33.3),(18.0,30.4),(19.2,28.4),(17.0,22.7),(20.3,19.4),(22.0,22.9),(22.9,23.4),(22.3,32.8),(22.7,31.5),(24.0,31.3),(24.0,20.1),(25.2,31.2),(25.7,33.2),(25.75,33.7),(26.1,33.0),(26.05,31.9),(26.4,31.5),(25.3,28.8),(25.0,26.7),(28.0,31.8),(30.8,35.8),(30.8,34.5),(31.6,32.9),(31.3,31.7),(31.6,30.6),(32.2,33.8),(33.0,31.5),(33.1,31.1),(33.8,29.7),(35.2,28.6),(35.2,28.1),(35.6,30.3),(35.0,27.6),(33.4,28.0),(30.5,28.0),(30.1,26.0),(27.5,25.1),(35.4,23.6),(34.6,27.7),(32.3,27.9),(12.5,35.5),
    (37.7,36.3),(46.0,33.3),(41.4,26.4),(43.0,26.5),(43.05,26.0),(46.4,27.0),(45.2,24.4),(40.3,22.8),(40.0,20.7),(46.0,20.5),(46.7,18.9),(46.9,18.9),(36.6,26.0),(36.9,26.0),(50.9,30.1),(51.9,29.0),(52.5,29.0),(54.1,31.9),(57.4,32.9),(54.8,26.0),(55.1,26.0),(61.3,33.4),(62.3,31.9),(62.6,38.2),(62.6,36.0),(62.7,34.3),(64.5,28.0),(63.0,26.0),(64.6,26.0),(66.1,26.0),(68.6,26.0),(70.4,26.0),(70.8,26.0),(69.7,31.9),(69.7,31.1),(70.35,32.4),(71.3,30.9),(70.6,29.4),(67.7,30.9),(68.3,31.1),(69.9,37.6),(63.2,24.3),(66.4,24.3),(65.7,23.4),(65.1,21.6),(69.1,20.7),(57.4,23.1),(57.8,23.5),(54.7,23.2),(53.9,24.4),(51.9,20.1),(49.2,18.9),(55.8,27.9),
]
baz_dark = [
    (3.6,32.5),(4.4,28.0),(5.4,26.3),(15.2,36.5),(11.8,34.5),(11.8,34.0),(11.8,33.5),(11.8,33.0),(13.5,33.3),(14.1,34.0),(8.4,26.9),(9.1,27.8),(9.6,26.7),(12.1,27.0),(15.1,28.0),(16.9,30.0),(16.9,30.3),(17.0,29.0),(16.4,28.0),(17.2,32.0),(18.4,33.9),(18.7,32.2),(19.1,30.0),(19.9,31.3),(21.1,28.7),(20.3,26.9),(21.0,26.7),(19.2,26.1),(19.7,26.0),(19.0,24.5),(19.2,24.2),(19.9,23.8),(19.7,23.4),(18.2,22.9),(18.2,22.5),(16.9,21.7),(15.4,21.4),(19.3,20.2),(20.3,22.0),(20.4,20.9),(22.4,19.4),(23.2,22.4),(23.2,22.2),(22.4,32.6),(22.4,32.2),(23.7,31.5),(23.7,31.2),(24.4,34.3),(24.9,36.9),(24.4,32.1),(24.4,31.9),(24.6,31.1),(24.6,30.5),(25.1,32.2),(25.2,31.7),(25.3,30.9),(25.5,32.8),(25.5,32.5),(25.55,32.0),(26.0,33.7),(26.0,32.4),(26.05,31.1),(26.3,33.0),(26.35,32.0),(26.6,32.2),(26.7,30.9),(26.0,34.9),(26.4,33.5),(25.5,30.3),(26.0,29.9),(27.9,33.3),(27.9,32.8),(27.95,32.2),(28.0,30.3),(31.4,33.2),(31.4,32.6),(31.45,32.0),(31.5,31.5),(32.4,32.1),(32.5,31.5),(32.7,32.6),(33.4,30.5),(33.5,30.7),(33.6,30.1),(33.8,30.3),(34.7,30.5),(34.8,29.5),(35.2,30.0),(35.2,29.1),(35.5,29.1),(33.9,27.0),(33.9,26.5),(33.9,25.8),(22.3,32.2),
    (37.8,35.7),(47.3,37.6),(46.8,34.5),(41.4,33.7),(42.5,34.2),(42.8,34.6),(43.2,34.5),(40.6,34.0),(40.6,25.0),(45.5,25.8),(42.8,22.9),(37.7,19.9),(42.2,18.9),(36.3,18.9),(48.2,26.1),(48.5,24.1),(50.3,33.2),(51.0,31.5),(52.3,33.9),(53.2,32.6),(53.3,32.0),(53.35,31.9),(53.1,30.2),(53.6,31.3),(53.6,30.7),(54.2,31.0),(54.3,30.3),(54.3,29.9),(54.3,33.1),(55.6,37.9),(55.6,34.5),(55.5,33.3),(55.5,32.9),(55.4,31.3),(55.4,31.1),(57.4,31.9),(57.4,31.7),(55.6,26.2),(55.8,28.0),(58.8,26.0),(60.2,31.5),(62.1,30.0),(63.6,32.0),(63.9,32.7),(64.2,18.8),(70.3,34.6),(70.3,34.1),(70.3,33.6),(70.35,33.0),(69.7,31.5),(71.1,32.4),(71.1,31.3),(71.1,30.3),(70.3,28.0),(50.3,19.2),(48.6,26.2),(36.0,27.0),
]
# dense cluster of detections (hour, azimuths)
baz_cluster_dark = [
    (36.0,(30.2,29.9)),(36.3,(30.6,29.7)),(36.6,(30.9,29.4,28.0)),(36.9,(29.1,27.5,26.8)),(37.2,(28.4,27.8)),(37.5,(28.8,28.0,27.2,26.5,25.8)),(37.7,(28.5,27.4,26.2)),(38.0,(30.3,29.2)),(38.3,(29.8,28.9)),(38.6,(30.1,29.4)),(38.9,(29.6,28.8)),(39.2,(31.2,30.5)),(39.4,(32.6,31.8,30.8)),(39.6,(33.0,32.2,31.5)),(39.9,(32.4,31.6,30.8)),(40.2,(32.8,31.9,31.2)),(40.5,(33.2,32.3,31.5)),(40.8,(30.9,30.3)),
    (41.0,(31.2,30.5,29.8)),(41.2,(31.8,30.9,30.2)),(41.4,(32.4,31.5,30.6)),(41.6,(32.9,32.0,31.1)),(41.8,(33.3,32.4,31.6)),(42.0,(32.8,32.0,31.2)),(42.2,(33.5,32.7,31.8)),(42.4,(34.0,33.2,32.3)),(42.6,(33.6,32.8,31.9,31.0)),(42.8,(33.1,32.2,31.4)),(43.0,(32.0,31.1,30.4)),(43.3,(31.4,30.6)),(43.5,(31.8,31.0,30.2)),(43.8,(31.2,30.4)),(44.0,(32.0,31.3,30.5)),(44.2,(31.6,30.8,29.9)),(44.4,(31.9,31.0,30.2,29.3,28.6)),(44.7,(31.4,30.6)),
    (45.0,(32.1,31.3,30.6)),(45.2,(32.6,31.8,31.0)),(45.4,(32.3,31.5,30.7)),(45.6,(32.0,31.2,30.4)),(45.8,(32.5,31.6,30.8)),(46.0,(32.2,31.3,30.5)),(46.2,(31.9,31.1)),(46.4,(32.4,31.6,30.9)),(46.6,(32.7,31.9,31.2)),(46.8,(32.2,31.5,30.6)),(47.0,(32.9,32.1,31.3)),(47.2,(32.5,31.7)),(47.4,(33.1,32.3,31.5)),(47.6,(32.8,32.0,31.2)),(47.8,(33.4,32.6,31.8)),
    (48.0,(33.2,32.4,31.6)),(48.2,(32.7,31.9,31.1)),(48.4,(33.5,32.6,31.8)),(48.6,(33.0,32.2,31.4)),(48.8,(32.6,31.8,31.0)),(49.0,(32.1,31.3,30.5)),(49.2,(31.7,30.9,30.2)),(49.4,(31.2,30.5,29.9)),(49.6,(30.9,30.2,29.6)),(49.8,(30.6,30.0,29.5)),(50.0,(30.3,29.8)),(50.2,(30.1,29.6)),
]
baz_cluster_dark_2 = [
    (36.15,(30.0,29.5)),(36.45,(30.3,29.0)),(36.75,(29.8,28.4)),(37.05,(28.7,27.1)),(37.35,(28.2,27.0,26.3)),(37.6,(27.6,26.0,25.3)),(37.85,(29.0,27.9)),(38.15,(29.9,28.6)),(38.45,(30.4,29.3)),(38.75,(29.9,29.2)),(39.05,(30.2,29.4)),(39.3,(32.0,31.0)),(39.5,(32.9,31.9,30.6)),(39.75,(32.7,31.4)),(40.05,(33.1,32.2,31.0)),(40.35,(33.0,31.7)),(40.65,(32.0,31.0,30.2)),(40.9,(31.6,30.0)),
    (41.1,(31.5,30.3)),(41.3,(32.1,30.5)),(41.5,(33.1,31.9,30.9)),(41.7,(33.5,31.4)),(41.9,(32.6,31.0)),(42.1,(33.8,32.3,31.1)),(42.3,(34.3,32.9,31.6)),(42.5,(33.8,32.4,31.2)),(42.7,(33.4,32.0,30.8)),(42.9,(32.6,31.1)),(43.15,(31.7,30.9,30.0)),(43.4,(31.2,30.3)),(43.65,(32.1,31.4,30.6)),(43.9,(31.7,30.8)),(44.1,(32.3,31.5,30.2)),(44.3,(31.2,30.4,29.5)),(44.55,(31.6,30.7,29.1)),(44.85,(31.8,30.9,30.2)),
    (45.1,(32.4,31.6,30.8)),(45.3,(32.9,31.2)),(45.5,(32.6,31.9,31.0)),(45.7,(32.3,30.7)),(45.9,(32.8,31.9,31.1)),(46.1,(32.5,31.6,30.8)),(46.3,(32.2,31.4,30.7)),(46.5,(32.9,32.1,31.3)),(46.7,(32.4,31.6,30.9)),(46.9,(33.0,32.0,31.0)),(47.1,(32.6,31.8,31.0)),(47.3,(33.3,32.6,31.8)),(47.5,(33.1,32.4,31.4)),(47.7,(33.6,32.8,32.0)),(47.9,(33.4,32.2,31.4)),
    (48.1,(33.0,32.2,31.3)),(48.3,(33.7,32.9,32.0)),(48.5,(33.2,32.4,31.6)),(48.7,(32.9,32.0,31.2)),(48.9,(32.4,31.6,30.8)),(49.1,(32.0,31.1,30.3)),(49.3,(31.5,30.7,30.0)),(49.5,(31.0,30.3,29.7)),(49.7,(30.8,30.1,29.4)),(49.9,(30.5,29.9,29.3)),(50.1,(30.2,29.7)),(50.3,(29.9,29.5)),
]
baz_cluster_red = [
    (36.1,30.5),(36.7,29.6),(37.0,30.4),(37.3,28.9),(37.6,26.9),(38.1,29.5),(38.7,29.0),(39.3,31.3),(39.7,31.0),(40.0,32.0),(40.4,31.0),(40.9,30.6),(41.3,31.2),(41.7,31.6),(42.1,32.3),(42.5,32.6),(42.9,31.8),(43.2,30.8),(43.6,30.6),(44.1,30.9),(44.5,29.8),(44.9,30.9),(45.3,31.4),(45.7,30.9),(46.1,31.8),(46.5,31.3),(46.9,31.9),(47.3,32.1),(47.7,31.6),(48.1,32.0),(48.5,32.9),(48.9,31.4),(49.3,31.1),(49.7,30.4),(50.1,30.0),(49.5,29.7),(47.1,30.9),(45.9,30.2),(43.9,29.9),(42.3,31.5),
]
baz_cluster_orange = [
    (36.4,29.6),(37.1,29.0),(38.5,28.7),(39.5,30.4),(41.5,29.8),(45.5,30.1),(47.5,30.8),(49.1,30.0),(50.3,29.5),
]
baz_cluster_yellow = [
    (36.8,31.1),(38.2,30.0),(40.7,30.1),(42.7,30.5),(44.3,29.5),(49.9,29.4),(37.4,30.2),(38.8,28.4),
]


# ---------------- helpers ----------------
def unzip(pairs):
    return [p[0] for p in pairs], [p[1] for p in pairs]


def flatten(cols):
    xs, ys = [], []
    for t, vals in cols:
        for v in vals:
            xs.append(t)
            ys.append(v)
    return xs, ys


n_bands = len(band_colors)
colorscale = []
for i, c in enumerate(band_colors):
    colorscale.append([i / n_bands, c])
    colorscale.append([(i + 1) / n_bands, c])

FONT = "Liberation Sans, Arial, Helvetica, sans-serif"
TXT = "#222222"

fig = make_subplots(rows=3, cols=1, shared_xaxes=True, vertical_spacing=0.02)

# panel a
poly_x = env_hours + env_hours[::-1]
poly_y = env_amp + [-a for a in env_amp[::-1]]
fig.add_trace(go.Scatter(x=poly_x, y=poly_y, fill="toself", fillcolor="black", mode="lines",
                         line=dict(color="black", width=1), showlegend=False, hoverinfo="skip"),
              row=1, col=1)
sx, sy = [], []
for t, top, bot in spikes:
    sx += [t, t, None]
    sy += [top, bot, None]
fig.add_trace(go.Scatter(x=sx, y=sy, mode="lines", line=dict(color="black", width=1.3),
                         showlegend=False, hoverinfo="skip"), row=1, col=1)


def add_points(xs, ys, f, row, size=4):
    fig.add_trace(go.Scatter(x=xs, y=ys, mode="markers",
                             marker=dict(size=size, color=[f] * len(xs), coloraxis="coloraxis",
                                         line=dict(width=0)),
                             showlegend=False, hoverinfo="skip"), row=row, col=1)


# panel b
add_points(*unzip(vel_pale), F_PALE, 2, 3.5)
add_points(*unzip(vel_pale_2), F_PALE, 2, 3.5)
add_points(*unzip(vel_yellow), F_YELLOW, 2, 3.5)
add_points(*unzip(vel_band_yellow), F_YELLOW, 2)
add_points(*unzip(vel_orange), F_ORANGE, 2)
add_points(*unzip(vel_band_orange), F_ORANGE, 2)
add_points(*flatten(vel_band_dark), F_DARK, 2)
add_points(*flatten(vel_band_dark_2), F_DARK, 2)
add_points(*unzip(vel_band_red), F_RED, 2)
add_points(*unzip(vel_red), F_RED, 2)
add_points(*unzip(vel_dark), F_DARK, 2)

# panel c
fig.add_trace(go.Scatter(x=[0, 72], y=[ref_baz, ref_baz], mode="lines",
                         line=dict(color="black", width=1.2, dash="dash"),
                         showlegend=False, hoverinfo="skip"), row=3, col=1)
add_points(*unzip(baz_pale), F_PALE, 3, 3.5)
add_points(*unzip(baz_pale_2), F_PALE, 3, 3.5)
add_points(*unzip(baz_yellow), F_YELLOW, 3, 3.5)
add_points(*unzip(baz_cluster_yellow), F_YELLOW, 3)
add_points(*unzip(baz_orange), F_ORANGE, 3)
add_points(*unzip(baz_cluster_orange), F_ORANGE, 3)
add_points(*flatten(baz_cluster_dark), F_DARK, 3)
add_points(*flatten(baz_cluster_dark_2), F_DARK, 3)
add_points(*unzip(baz_cluster_red), F_RED, 3)
add_points(*unzip(baz_red), F_RED, 3)
add_points(*unzip(baz_dark), F_DARK, 3)

axis_common = dict(showline=True, linecolor="black", linewidth=1, mirror="ticks",
                   ticks="inside", ticklen=7, tickcolor="black", tickwidth=1,
                   showgrid=True, gridcolor="#a8a8a8", griddash="1px,2px", gridwidth=1,
                   zeroline=False, automargin=False,
                   tickfont=dict(family=FONT, size=18, color=TXT))

for r in (1, 2, 3):
    fig.update_xaxes(range=[0, 72], tickmode="array", tickvals=time_ticks,
                     ticktext=time_tick_labels, showticklabels=(r == 3), row=r, col=1,
                     **axis_common)

fig.update_yaxes(range=[-0.183, 0.183], tickmode="array", tickvals=p_ticks,
                 ticktext=p_tick_labels, row=1, col=1, **axis_common)
fig.update_yaxes(range=[0.3, 0.4497], tickmode="array", tickvals=v_ticks,
                 ticktext=v_tick_labels, row=2, col=1, **axis_common)
fig.update_yaxes(range=[18.72, 38.66], tickmode="array", tickvals=baz_ticks, row=3, col=1,
                 **axis_common)

# the page body adds an 8 px margin, so the figure is sized to fit inside the window
fig.update_layout(
    width=1243, height=592,
    margin=dict(l=75, r=92, t=2, b=36, autoexpand=False),
    plot_bgcolor="white", paper_bgcolor="white",
    font=dict(family=FONT, size=18, color=TXT),
    yaxis=dict(domain=[0.682, 1.0]),
    yaxis2=dict(domain=[0.343, 0.659]),
    yaxis3=dict(domain=[0.0, 0.318]),
    coloraxis=dict(
        colorscale=colorscale, cmin=0, cmax=F_MAX,
        colorbar=dict(
            x=1.013, xanchor="left", y=-0.004, yanchor="bottom", len=0.664, lenmode="fraction",
            thickness=25, thicknessmode="pixels", outlinewidth=1, outlinecolor="black",
            tickmode="array", tickvals=f_ticks, ticks="inside", ticklen=6, tickcolor="black",
            tickfont=dict(family=FONT, size=18, color=TXT),
            title=dict(text="F−statistic", side="right", font=dict(family=FONT, size=18, color=TXT)),
        ),
    ),
)

# axis titles
titles = [("Pressure (Pa)", 0.841), ("Trace Velocity (km/s)", 0.501), ("Back−Azimuth (deg)", 0.159)]
for text, yc in titles:
    fig.add_annotation(text=text, x=-0.0586, y=yc, xref="paper", yref="paper", textangle=-90,
                       showarrow=False, xanchor="center", yanchor="middle",
                       font=dict(family=FONT, size=18, color=TXT))
fig.add_annotation(text="UTC Time", x=0.5, y=-0.047, xref="paper", yref="paper", showarrow=False,
                   xanchor="center", yanchor="middle", font=dict(family=FONT, size=18, color=TXT))

# panel letters
for i, lab in enumerate(["a)", "b)", "c)"]):
    ax = "x" if i == 0 else f"x{i + 1}"
    ay = "y" if i == 0 else f"y{i + 1}"
    fig.add_annotation(text=f"<b>{lab}</b>", x=0.009, y=0.985, xref=f"{ax} domain",
                       yref=f"{ay} domain", showarrow=False, xanchor="left", yanchor="top",
                       font=dict(family=FONT, size=28, color="black"))

fig.write_html("out.html")
